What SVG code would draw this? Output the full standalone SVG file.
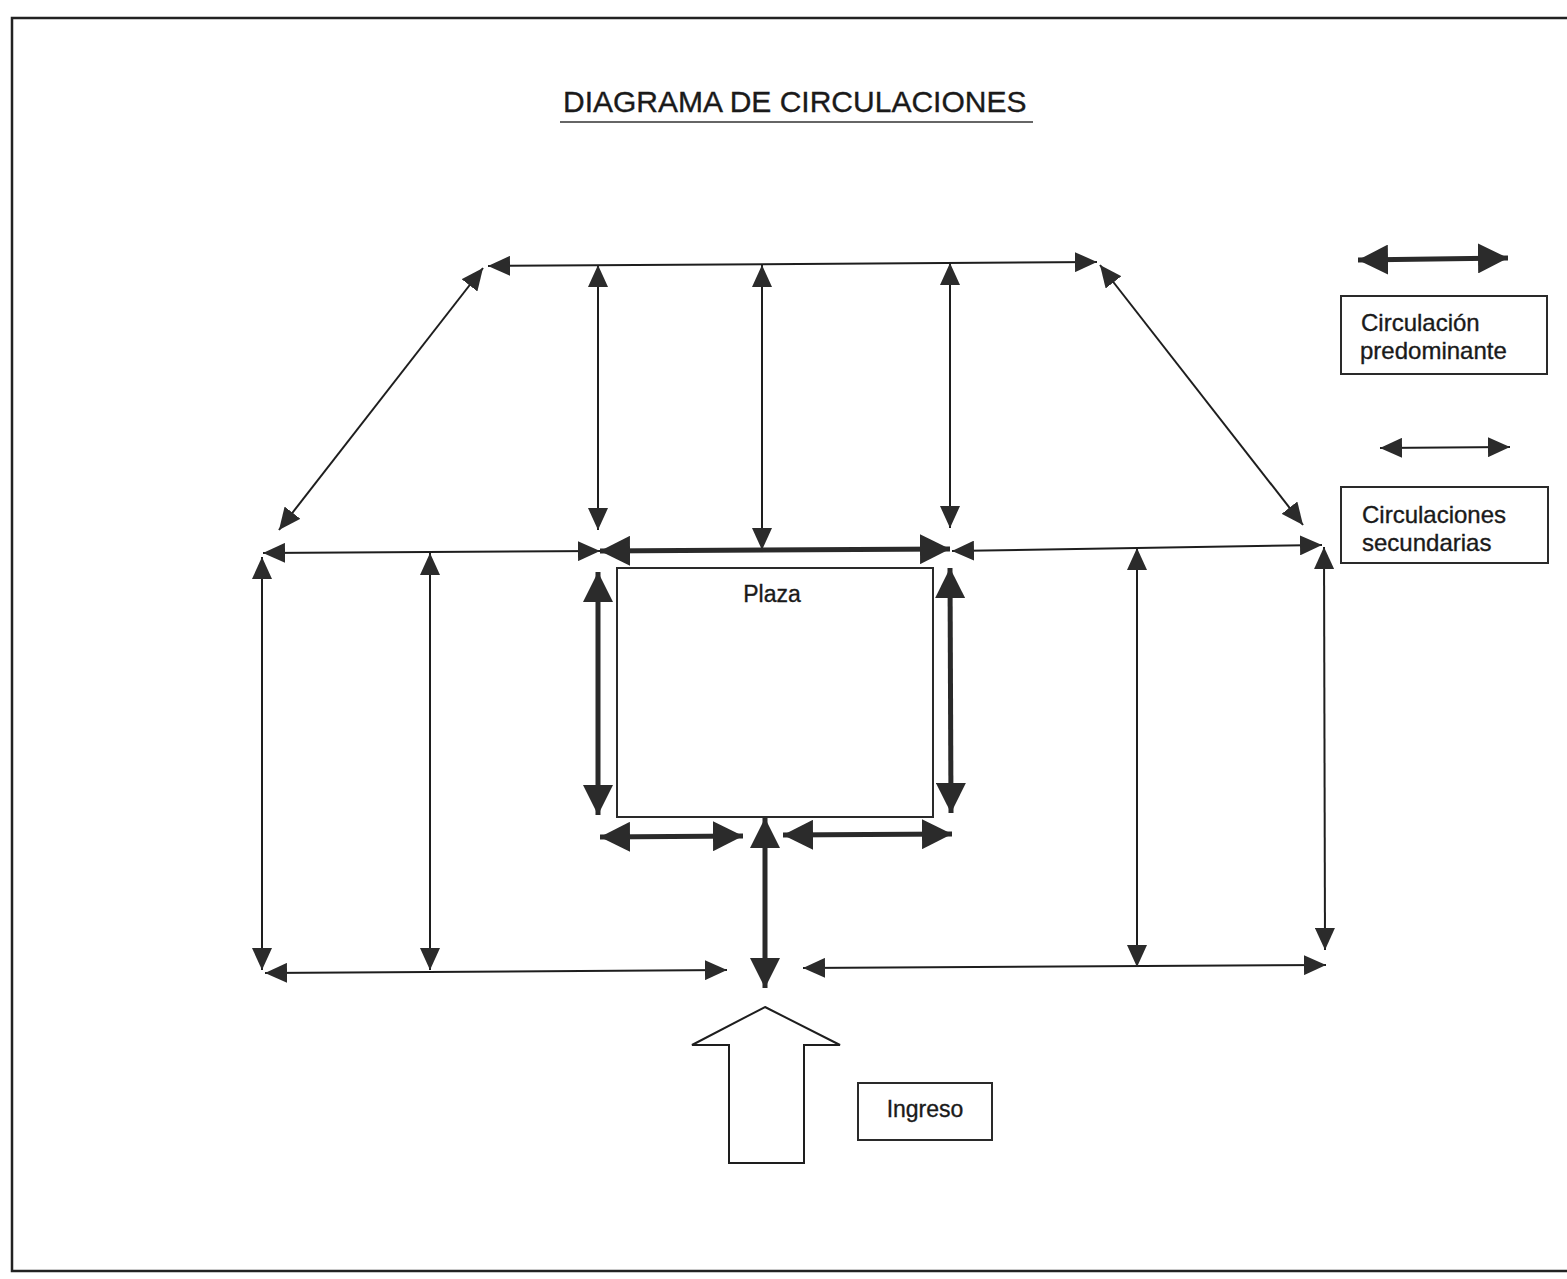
<svg xmlns="http://www.w3.org/2000/svg" width="1567" height="1279" viewBox="0 0 1567 1279">
<style>
.bg{fill:#ffffff}
.frame{fill:none;stroke:#222;stroke-width:2.5}
.box{fill:#fff;stroke:#2a2a2a;stroke-width:2}
.txt{font-family:"Liberation Sans","Open Sans",sans-serif;fill:#1a1a1a;stroke:#1a1a1a;stroke-width:0.35}
.thin{fill:none;stroke:#1e1e1e;stroke-width:2;marker-start:url(#ah);marker-end:url(#ah)}
.thick{fill:none;stroke:#2a2a2a;stroke-width:5;marker-start:url(#ahT);marker-end:url(#ahT)}
.block{fill:#fff;stroke:#1e1e1e;stroke-width:2;stroke-linejoin:miter}
</style>
<defs>
<marker id="ah" markerUnits="userSpaceOnUse" viewBox="0 0 22 20" markerWidth="22" markerHeight="20" refX="22" refY="10" orient="auto-start-reverse">
<path d="M0,0 L22,10 L0,20 z" fill="#2b2b2b"/>
</marker>
<marker id="ahT" markerUnits="userSpaceOnUse" viewBox="0 0 30 30" markerWidth="30" markerHeight="30" refX="30" refY="15" orient="auto-start-reverse">
<path d="M0,0 L30,15 L0,30 z" fill="#2b2b2b"/>
</marker>
</defs>
<rect class="bg" x="0" y="0" width="1567" height="1279"/>
<rect class="frame" x="12" y="18" width="1600" height="1253"/>

<g id="title">
<text class="txt" x="563" y="112" font-size="30">DIAGRAMA DE CIRCULACIONES</text>
<line x1="560" y1="122" x2="1033" y2="122" stroke="#333" stroke-width="1.5"/>
</g>

<g id="plaza">
<rect class="box" x="617" y="568" width="316" height="249"/>
<text class="txt" x="772" y="602" font-size="23" text-anchor="middle">Plaza</text>
</g>

<g id="ingreso-arrow">
<polygon class="block" points="765,1007 840,1045 804,1045 804,1163 729,1163 729,1045 692,1045"/>
</g>

<g id="ingreso">
<rect class="box" x="858" y="1083" width="134" height="57"/>
<text class="txt" x="925" y="1117" font-size="23" text-anchor="middle">Ingreso</text>
</g>

<g id="legend-predominante">
<line class="thick" x1="1358" y1="260" x2="1508" y2="258"/>
<rect class="box" x="1341" y="296" width="206" height="78"/>
<text class="txt" x="1361" y="331" font-size="24">Circulación</text>
<text class="txt" x="1360" y="359" font-size="24">predominante</text>
</g>

<g id="legend-secundarias">
<line class="thin" x1="1380" y1="448" x2="1510" y2="447"/>
<rect class="box" x="1341" y="487" width="207" height="76"/>
<text class="txt" x="1362" y="523" font-size="24">Circulaciones</text>
<text class="txt" x="1362" y="551" font-size="24">secundarias</text>
</g>

<g id="connectors">
<line class="thin" x1="488" y1="266" x2="1097" y2="262"/>
<line class="thin" x1="483" y1="268" x2="279" y2="530"/>
<line class="thin" x1="1100" y1="265" x2="1303" y2="525"/>
<line class="thin" x1="598" y1="265" x2="598" y2="530"/>
<line class="thin" x1="762" y1="265" x2="762" y2="550"/>
<line class="thin" x1="950" y1="263" x2="950" y2="528"/>
<line class="thin" x1="263" y1="553" x2="600" y2="551"/>
<line class="thin" x1="952" y1="551" x2="1322" y2="545"/>
<line class="thin" x1="262" y1="557" x2="262" y2="970"/>
<line class="thin" x1="430" y1="553" x2="430" y2="970"/>
<line class="thin" x1="265" y1="973" x2="727" y2="970"/>
<line class="thin" x1="803" y1="968" x2="1326" y2="965"/>
<line class="thin" x1="1137" y1="548" x2="1137" y2="967"/>
<line class="thin" x1="1324" y1="547" x2="1325" y2="950"/>
<line class="thick" x1="600" y1="551" x2="950" y2="549"/>
<line class="thick" x1="598" y1="572" x2="598" y2="815"/>
<line class="thick" x1="950" y1="568" x2="951" y2="813"/>
<line class="thick" x1="600" y1="837" x2="743" y2="836"/>
<line class="thick" x1="783" y1="835" x2="952" y2="834"/>
<line class="thick" x1="765" y1="818" x2="765" y2="988"/>
</g>
</svg>
